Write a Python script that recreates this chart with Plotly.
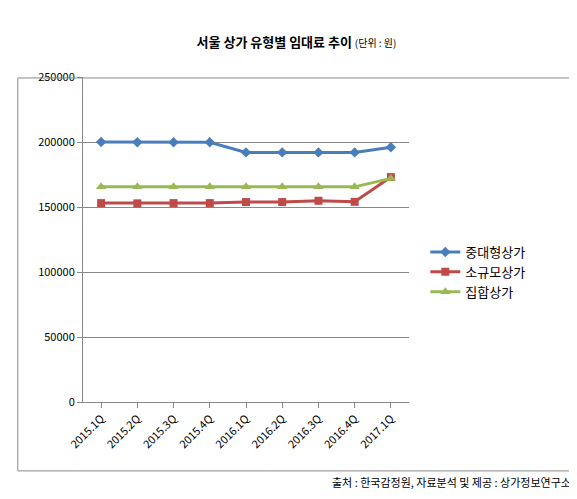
import plotly.graph_objects as go

quarters = ["2015.1Q","2015.2Q","2015.3Q","2015.4Q","2016.1Q","2016.2Q","2016.3Q","2016.4Q","2017.1Q"]
mid_large = [200000,199800,199800,199800,192000,192000,192000,192000,196000]
small = [153000,152800,153000,153000,153800,153800,154800,154000,173000]
complex_ = [165500,165500,165500,165500,165500,165500,165500,165500,172000]

fig = go.Figure()
fig.add_trace(go.Scatter(x=quarters, y=mid_large, name="중대형상가", mode="lines+markers",
    line=dict(color="#4a7ebb", width=3), marker=dict(symbol="diamond", size=8, color="#4a7ebb")))
fig.add_trace(go.Scatter(x=quarters, y=small, name="소규모상가", mode="lines+markers",
    line=dict(color="#be4b48", width=3), marker=dict(symbol="square", size=8, color="#be4b48")))
fig.add_trace(go.Scatter(x=quarters, y=complex_, name="집합상가", mode="lines+markers",
    line=dict(color="#98b954", width=3), marker=dict(symbol="triangle-up", size=9, color="#98b954")))

fig.update_layout(
    width=577, height=499, paper_bgcolor="white", plot_bgcolor="white",
    font=dict(family="Noto Sans CJK KR", size=11, color="black"),
    margin=dict(l=75, r=176, t=69, b=105),
    title=dict(text="<b>서울 상가 유형별 임대료 추이</b> <span style='font-size:10px'>(단위 : 원)</span>",
               x=0.5, xanchor="center", y=0.94, font=dict(size=13)),
    legend=dict(x=1.05, y=0.40, yanchor="middle", font=dict(size=13), bgcolor="rgba(0,0,0,0)"),
    xaxis=dict(showline=True, linecolor="#888", tickangle=-45, ticks="outside", tickcolor="#888",
               range=[-0.5, 8.5], showgrid=False),
    yaxis=dict(range=[0, 250000], dtick=50000, showgrid=True, gridcolor="#888", showline=True,
               linecolor="#888", ticks="outside", tickcolor="#888", tickformat="d"),
    shapes=[dict(type="rect", xref="paper", yref="paper", x0=-0.2, x1=1.503, y0=-0.212, y1=0.997,
                 line=dict(color="#888", width=1))],
    annotations=[dict(text="출처 : 한국감정원, 자료분석 및 제공 : 상가정보연구소", xref="paper", yref="paper",
                      x=1.503, y=-0.246, xanchor="right", yanchor="middle", showarrow=False, font=dict(size=11))],
)
fig.write_html("out.html")
